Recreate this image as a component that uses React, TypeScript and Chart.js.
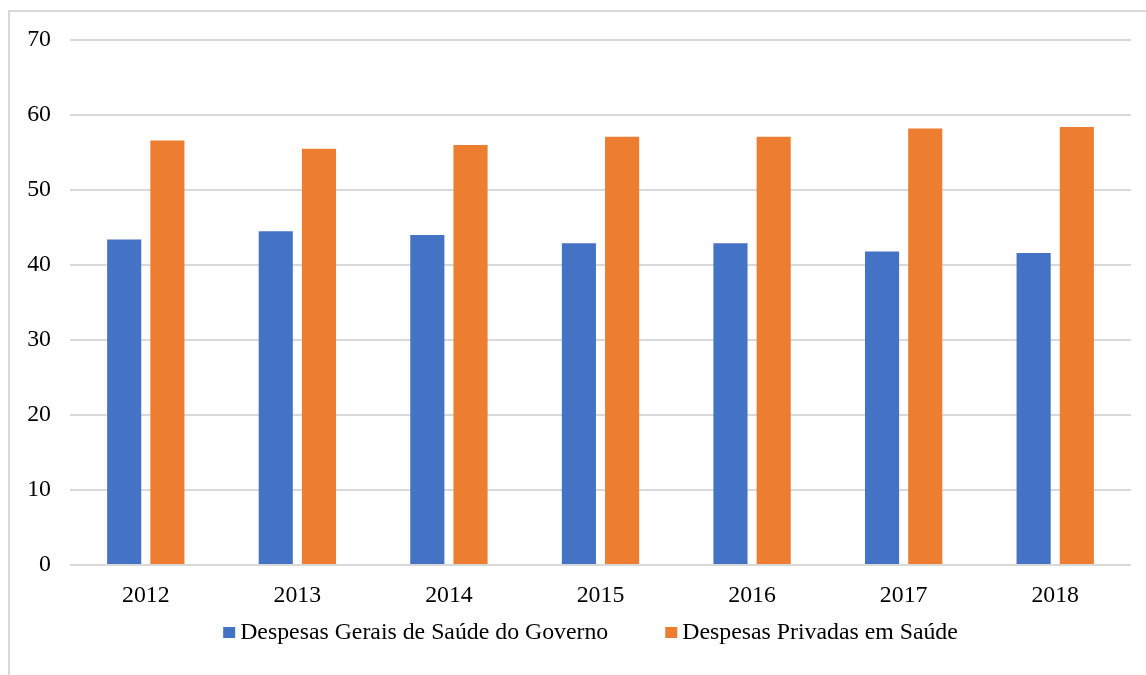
import React, { useEffect, useRef } from "react";
import { Chart, registerables } from "chart.js";

Chart.register(...registerables);

const years = ["2012", "2013", "2014", "2015", "2016", "2017", "2018"];
const governo = [43.4, 44.5, 44.0, 42.9, 42.9, 41.8, 41.6];
const privadas = [56.6, 55.5, 56.0, 57.1, 57.1, 58.2, 58.4];
const seriesNames = ["Despesas Gerais de Saúde do Governo", "Despesas Privadas em Saúde"];
const seriesColors = ["#4472C4", "#ED7D31"];
const yTicks = [0, 10, 20, 30, 40, 50, 60, 70];

const FONT = "'Liberation Serif', 'Times New Roman', serif";
const FONT_SIZE = 23.8;

const legendPlugin = {
  id: "customLegend",
  afterDraw(chart: any, _args: any, opts: any) {
    const ctx = chart.ctx;
    const area = chart.chartArea;
    ctx.save();
    ctx.font = `${opts.size}px ${FONT}`;
    ctx.textBaseline = "middle";
    ctx.textAlign = "left";
    const items = chart.data.datasets.map((ds: any) => ({
      label: ds.label,
      color: ds.backgroundColor,
      w: ctx.measureText(ds.label).width,
    }));
    const total =
      items.reduce((s: number, it: any) => s + opts.box + opts.gap + it.w, 0) +
      opts.itemGap * (items.length - 1);
    let x = (area.left + area.right) / 2 + opts.dx - total / 2;
    const y = area.bottom + opts.dy;
    items.forEach((it: any) => {
      ctx.fillStyle = it.color;
      ctx.fillRect(x, y - opts.box / 2, opts.box, opts.box - 1);
      x += opts.box + opts.gap;
      ctx.fillStyle = "#000";
      ctx.fillText(it.label, x, y);
      x += it.w + opts.itemGap;
    });
    ctx.restore();
  },
};

export default function App() {
  const ref = useRef<HTMLCanvasElement | null>(null);
  useEffect(() => {
    if (!ref.current) return;
    const chart = new Chart(ref.current, {
      type: "bar",
      data: {
        labels: years,
        datasets: [
          { label: seriesNames[0], data: governo, backgroundColor: seriesColors[0], categoryPercentage: 0.57, barPercentage: 0.79 },
          { label: seriesNames[1], data: privadas, backgroundColor: seriesColors[1], categoryPercentage: 0.57, barPercentage: 0.79 },
        ],
      },
      plugins: [legendPlugin],
      options: {
        animation: false,
        responsive: false,
        layout: { padding: { left: 0, right: 15, top: 40, bottom: 60 } },
        plugins: {
          tooltip: { enabled: false },
          legend: { display: false },
          customLegend: { size: FONT_SIZE, box: 12, gap: 5, itemGap: 57, dx: -10, dy: 68 },
        } as any,
        scales: {
          x: {
            grid: { display: false, drawTicks: false },
            border: { display: false },
            afterFit: (axis: any) => {
              axis.height = 50;
            },
            ticks: { color: "#000", font: { family: FONT, size: FONT_SIZE }, padding: 16 },
          },
          y: {
            min: 0,
            max: 70,
            afterBuildTicks: (axis: any) => {
              axis.ticks = yTicks.map((v) => ({ value: v }));
            },
            afterFit: (axis: any) => {
              axis.width = 70;
            },
            grid: { color: "#d9d9d9", lineWidth: 2, drawTicks: false },
            border: { display: false },
            ticks: { color: "#000", font: { family: FONT, size: FONT_SIZE }, padding: 19 },
          },
        },
      },
    });
    return () => chart.destroy();
  }, []);
  return (
    <div style={{ position: "fixed", left: 0, top: 0, width: 1146, height: 675, background: "#fff", overflow: "hidden" }}>
      <div style={{ position: "absolute", left: 8, top: 10, width: 1160, height: 700, border: "2px solid #d9d9d9", boxSizing: "border-box" }} />
      <canvas ref={ref} width={1146} height={675} style={{ position: "absolute", left: 0, top: 0 }} />
    </div>
  );
}
